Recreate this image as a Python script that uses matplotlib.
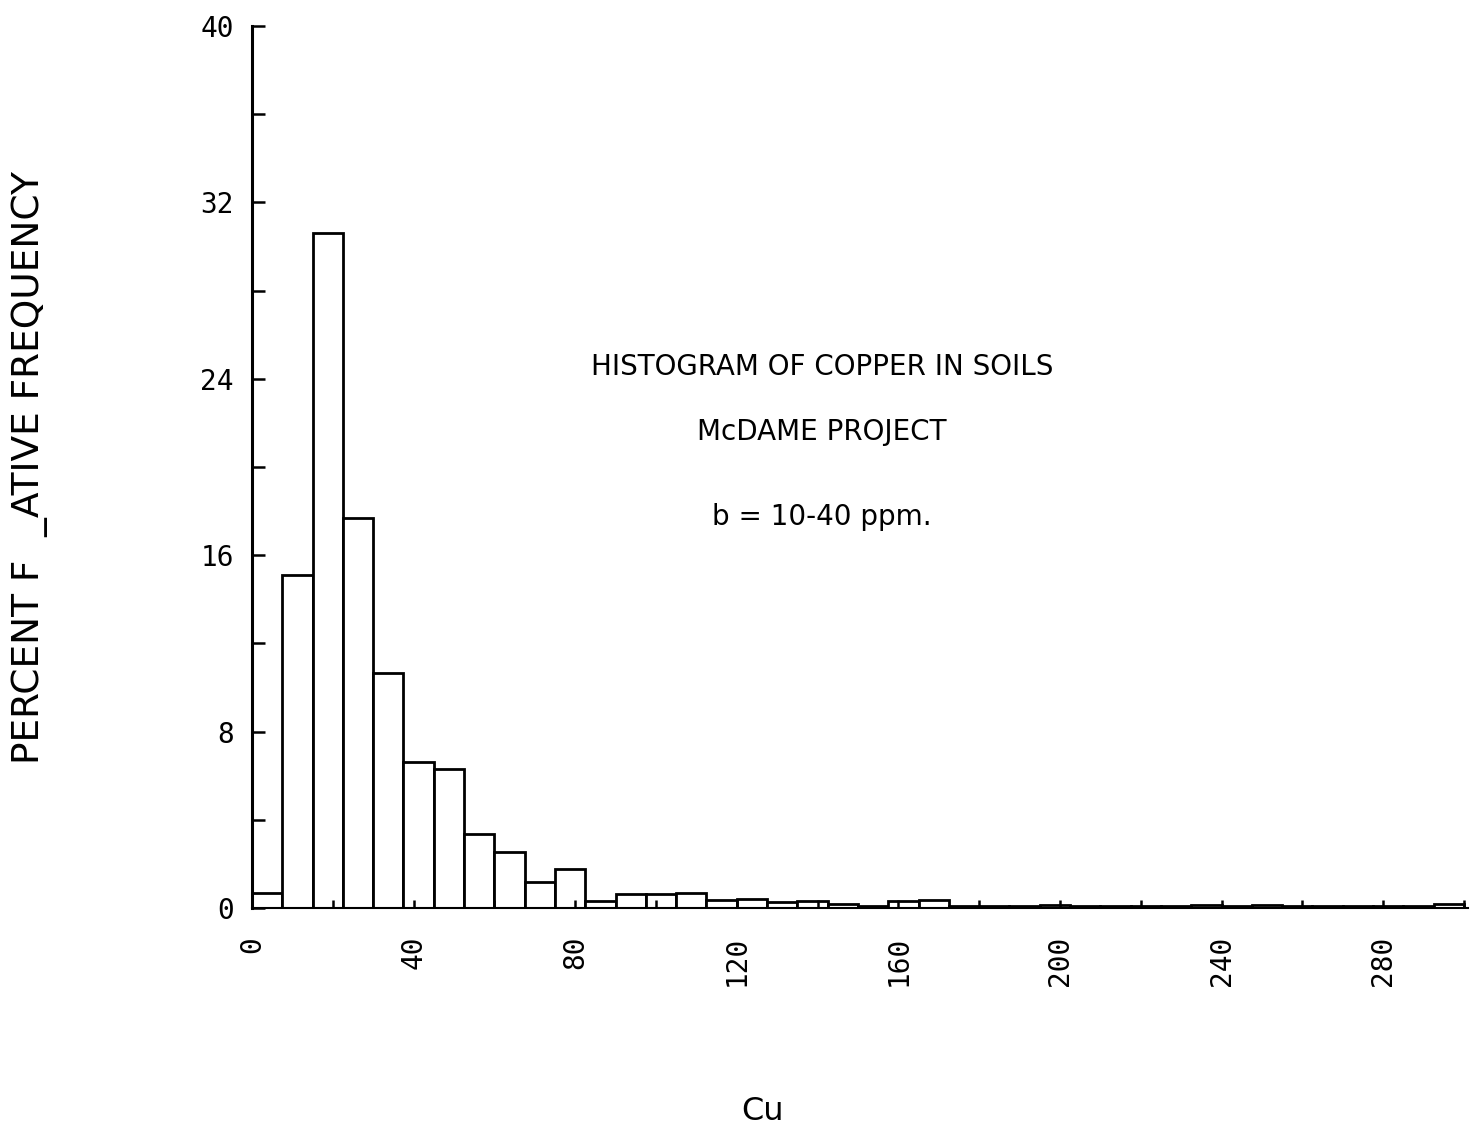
import numpy as np
import matplotlib
matplotlib.use("Agg")
import matplotlib.pyplot as plt
from matplotlib.ticker import MultipleLocator

# Bin layout (ppm Cu) and percent frequencies
bin_width = 7.5
bin_left = np.arange(0, 300, bin_width)
percent = [0.68, 15.1, 30.6, 17.7, 10.65, 6.6, 6.3, 3.36, 2.54, 1.18,
           1.77, 0.32, 0.64, 0.64, 0.7, 0.36, 0.4, 0.27, 0.3, 0.18,
           0.1, 0.3, 0.35, 0.1, 0.1, 0.1, 0.15, 0.1, 0.1, 0.1,
           0.1, 0.15, 0.1, 0.12, 0.1, 0.1, 0.1, 0.1, 0.1, 0.2]

y_ticks = [0, 8, 16, 24, 32, 40]
x_ticks = [0, 40, 80, 120, 160, 200, 240, 280]

title_lines = ["HISTOGRAM OF COPPER IN SOILS", "McDAME PROJECT", "b = 10-40 ppm."]
y_label = "PERCENT F  _ATIVE FREQUENCY"
x_label = "Cu"

fig = plt.figure(figsize=(14.72, 11.31), dpi=100)
ax = fig.add_axes([252 / 1472, 1 - 908 / 1131, 1216 / 1472, 882 / 1131])

ax.bar(bin_left, percent, width=bin_width, align='edge',
       facecolor='white', edgecolor='black', linewidth=2)

ax.set_xlim(0, 301)
ax.set_ylim(0, 40)

for side in ['top', 'right']:
    ax.spines[side].set_visible(False)
ax.spines['left'].set_linewidth(2.2)
ax.spines['bottom'].set_linewidth(1.5)

ax.set_yticks(y_ticks)
ax.yaxis.set_minor_locator(MultipleLocator(4))
ax.set_xticks(x_ticks)
ax.xaxis.set_minor_locator(MultipleLocator(20))
ax.tick_params(axis='y', which='both', direction='in', length=9, width=1.8)
ax.tick_params(axis='x', which='both', direction='in', length=6, width=1.8)
ax.tick_params(axis='y', which='major', pad=13)
ax.tick_params(axis='x', which='major', pad=20)

for lab in ax.get_yticklabels():
    lab.set_fontfamily('DejaVu Sans Mono')
    lab.set_fontsize(20)
for lab in ax.get_xticklabels():
    lab.set_fontfamily('DejaVu Sans Mono')
    lab.set_fontsize(20)
    lab.set_rotation(90)
    lab.set_va('top')

# annotation block in the plot area
for txt, yy in zip(title_lines, [367, 432, 517]):
    fig.text(822 / 1472, 1 - yy / 1131, txt, ha='center', va='center',
             fontsize=20, family='DejaVu Sans')

fig.text(30 / 1472, 1 - 467 / 1131, y_label, rotation=90, ha='center',
         va='center', fontsize=27, family='DejaVu Sans')
fig.text(763 / 1472, 1 - 1112 / 1131, x_label, ha='center', va='center',
         fontsize=23, family='DejaVu Sans')

fig.savefig("out.png", dpi=100, facecolor='white')
